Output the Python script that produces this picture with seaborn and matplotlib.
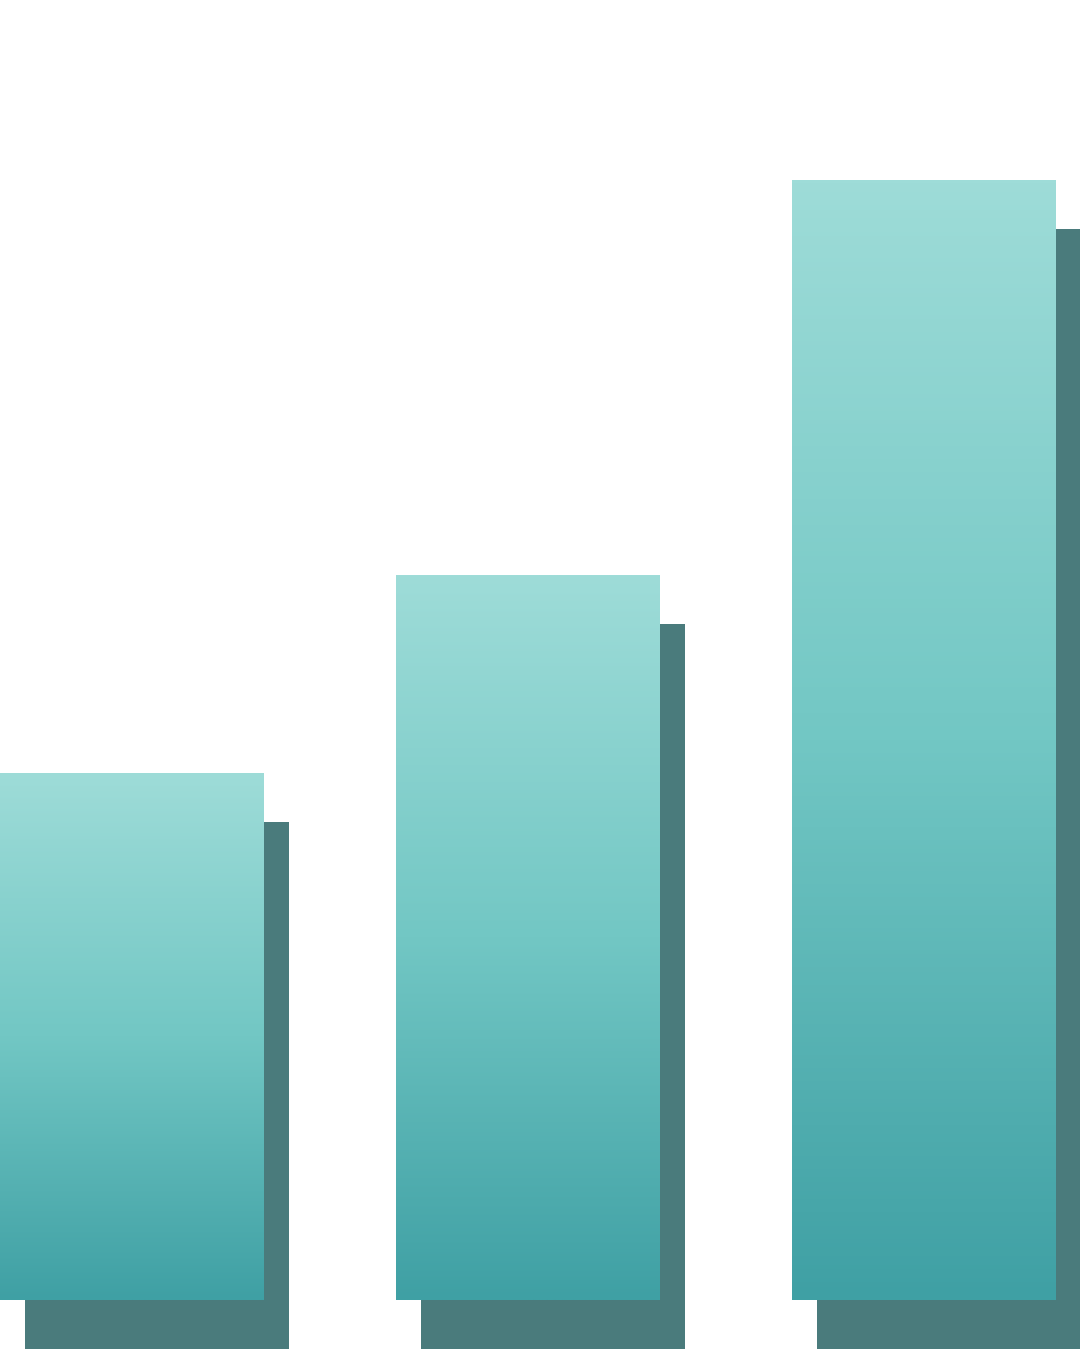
import numpy as np
import pandas as pd
import matplotlib
matplotlib.use("Agg")
import matplotlib.pyplot as plt
import matplotlib.transforms as mtransforms
from matplotlib.colors import LinearSegmentedColormap
import seaborn as sns

# data
categories = ["A", "B", "C"]
values = [47.1, 64.7, 100]

top_color = "#9edcd8"
mid_color = "#72c7c4"
bottom_color = "#3fa0a4"
shadow_color = "#4a7b7c"

df = pd.DataFrame({"cat": categories, "val": values})

sns.set_style("white")
fig = plt.figure(figsize=(10.8, 13.5), dpi=100)
ax = fig.add_axes([0, 0, 1, 1])

# shadow bars, shifted right/down by a fixed pixel offset
sns.barplot(data=df, x="cat", y="val", color=shadow_color, width=0.665,
            saturation=1, ax=ax)
shadows = list(ax.patches)
shift = mtransforms.ScaledTranslation(25 / 100, -49 / 100, fig.dpi_scale_trans)
for p in shadows:
    p.set_transform(ax.transData + shift)
    p.set_linewidth(0)
    p.set_zorder(1)

# main bars with vertical gradient
sns.barplot(data=df, x="cat", y="val", color=bottom_color, width=0.665,
            saturation=1, ax=ax)
mains = [p for p in ax.patches if p not in shadows]

cmap = LinearSegmentedColormap.from_list(
    "grad", [(0, bottom_color), (0.5, mid_color), (1, top_color)])
grad = np.linspace(0, 1, 256).reshape(-1, 1)
for p in mains:
    p.set_linewidth(0)
    p.set_zorder(2)
    x0, y0 = p.get_x(), p.get_y()
    w, h = p.get_width(), p.get_height()
    im = ax.imshow(grad, cmap=cmap, origin="lower", aspect="auto",
                   extent=[x0, x0 + w, y0, y0 + h], zorder=3)
    im.set_clip_path(p)

ax.set_xlim(-0.3333, 2.3939)
ax.set_ylim(-4.46, 116.07)
ax.axis("off")

fig.savefig("out.png", dpi=100, facecolor="white")
